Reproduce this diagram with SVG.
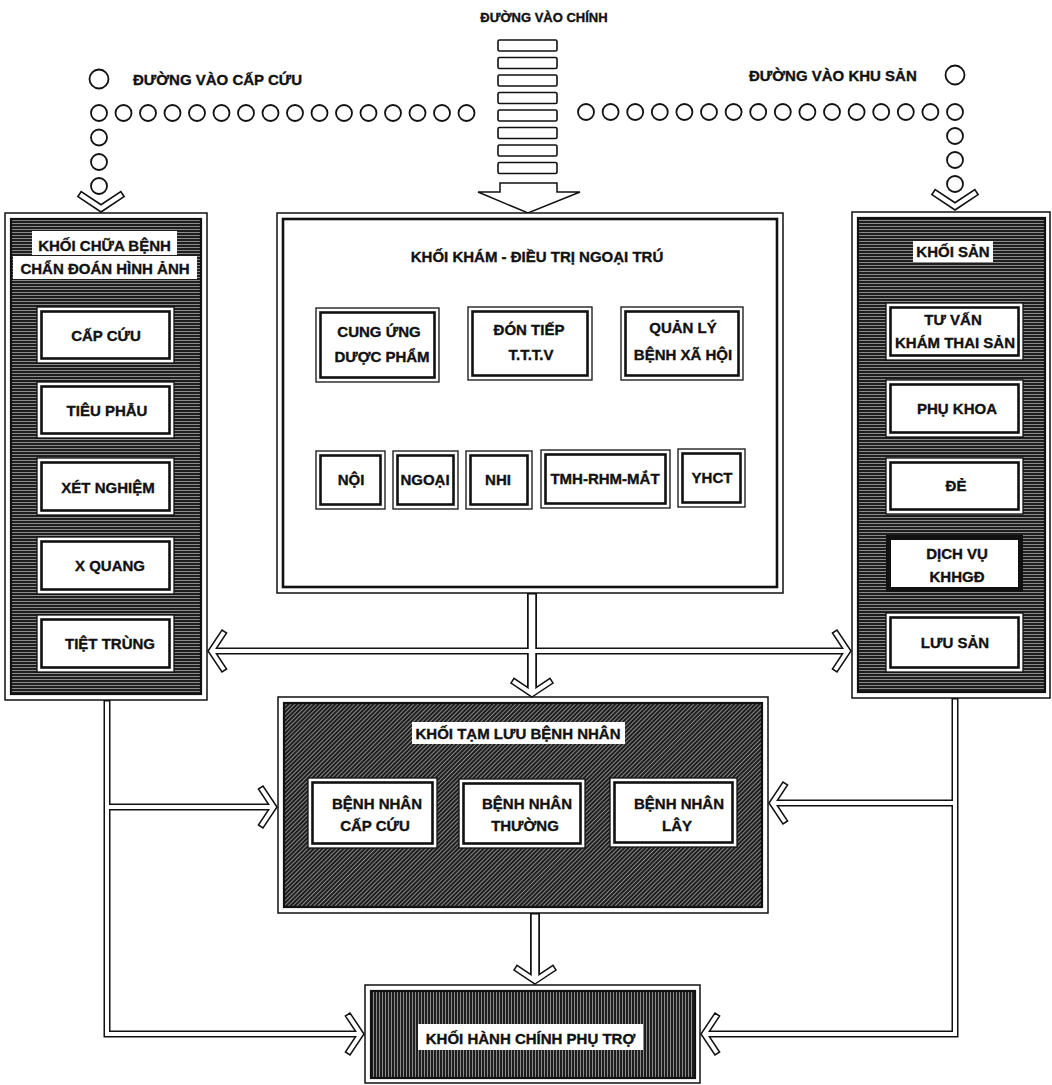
<svg xmlns="http://www.w3.org/2000/svg" width="1052" height="1085" viewBox="0 0 1052 1085">
<defs>
<style>
text{font-family:"Liberation Sans",Arial,"Noto Sans",sans-serif;font-weight:bold;font-size:15px;fill:#111;stroke:#111;stroke-width:0.35;text-anchor:middle}
.st{text-anchor:start}
.o{fill:#fff;stroke:#111;stroke-width:1.3}
.i{fill:none;stroke:#111;stroke-width:2.6}
.thick{fill:#fff;stroke:#111;stroke-width:5}
.bo{fill:#fff;stroke:#111;stroke-width:1.5}
.bi{fill:none;stroke:#111;stroke-width:2.6}
.hH{fill:url(#hatchH);stroke:#111;stroke-width:2.2}
.hD{fill:url(#hatchD);stroke:#111;stroke-width:2.2}
.hV{fill:url(#hatchV);stroke:#111;stroke-width:2.2}
.lab{fill:#fff}
.dot{fill:none;stroke:#111;stroke-width:1.8}
.stair{fill:#fff;stroke:#111;stroke-width:1.6}
.chev{fill:#fff;stroke:#111;stroke-width:1.5;stroke-linejoin:miter}
.cb{fill:none;stroke:#111;stroke-width:7;stroke-linejoin:miter}
.cw{fill:none;stroke:#fff;stroke-width:4;stroke-linejoin:miter}
.cb2{fill:none;stroke:#111;stroke-width:10}
.cw2{fill:none;stroke:#fff;stroke-width:6.5}
</style>
<pattern id="hatchH" width="12" height="3" patternUnits="userSpaceOnUse">
<rect width="12" height="3" fill="#1e1e1e"/><rect y="1" width="12" height="1" fill="#8c8c8c"/>
</pattern>
<pattern id="hatchD" width="12" height="3" patternUnits="userSpaceOnUse" patternTransform="rotate(-45)">
<rect width="12" height="3" fill="#1e1e1e"/><rect y="1" width="12" height="1" fill="#858585"/>
</pattern>
<pattern id="hatchV" width="3" height="12" patternUnits="userSpaceOnUse">
<rect width="3" height="12" fill="#1e1e1e"/><rect x="1" width="1" height="12" fill="#8c8c8c"/>
</pattern>
<polygon id="chev" class="chev" points="0,0 -14,-21 -18.6,-18 -6.6,0 -18.6,18 -14,21"/>
<circle id="dot" class="dot" r="8"/>
<rect id="step" class="stair" x="498" width="59" height="11" rx="1.5"/>
</defs>
<rect width="1052" height="1085" fill="#fff"/>

<!-- Entrances -->
<g id="entrance-main">
<text x="544" y="22" style="font-size:13px">ĐƯỜNG VÀO CHÍNH</text>
<use href="#step" y="40"/><use href="#step" y="57.5"/><use href="#step" y="75"/><use href="#step" y="92.5"/>
<use href="#step" y="110"/><use href="#step" y="127.5"/><use href="#step" y="145"/><use href="#step" y="162.5"/>
<path d="M500,183 H557 V192 H580 L528,213 L478,192 H500 Z" fill="#fff" stroke="#111" stroke-width="1.5" stroke-linejoin="miter"/>
</g>

<g id="entrance-emergency">
<circle class="dot" cx="99" cy="79" r="9.5"/>
<text class="st" x="133" y="85">ĐƯỜNG VÀO CẤP CỨU</text>
<use href="#dot" x="99" y="113"/><use href="#dot" x="123.5" y="113"/><use href="#dot" x="148" y="113"/><use href="#dot" x="172.5" y="113"/>
<use href="#dot" x="197" y="113"/><use href="#dot" x="221.5" y="113"/><use href="#dot" x="246" y="113"/><use href="#dot" x="270.5" y="113"/>
<use href="#dot" x="295" y="113"/><use href="#dot" x="319.5" y="113"/><use href="#dot" x="344" y="113"/><use href="#dot" x="368.5" y="113"/>
<use href="#dot" x="393" y="113"/><use href="#dot" x="417.5" y="113"/><use href="#dot" x="442" y="113"/><use href="#dot" x="466.5" y="113"/>
<use href="#dot" x="99" y="137.5"/><use href="#dot" x="99" y="162"/><use href="#dot" x="99" y="186"/>
<use href="#chev" transform="translate(101,212) rotate(90) scale(1.1)"/>
</g>

<g id="entrance-maternity">
<circle class="dot" cx="955" cy="75" r="9.5"/>
<text class="st" x="749" y="81">ĐƯỜNG VÀO KHU SẢN</text>
<use href="#dot" x="586" y="112"/><use href="#dot" x="610.6" y="112"/><use href="#dot" x="635.2" y="112"/><use href="#dot" x="659.8" y="112"/>
<use href="#dot" x="684.4" y="112"/><use href="#dot" x="709" y="112"/><use href="#dot" x="733.6" y="112"/><use href="#dot" x="758.2" y="112"/>
<use href="#dot" x="782.8" y="112"/><use href="#dot" x="807.4" y="112"/><use href="#dot" x="832" y="112"/><use href="#dot" x="856.6" y="112"/>
<use href="#dot" x="881.2" y="112"/><use href="#dot" x="905.8" y="112"/><use href="#dot" x="930.4" y="112"/><use href="#dot" x="955" y="112"/>
<use href="#dot" x="955" y="136"/><use href="#dot" x="955" y="160"/><use href="#dot" x="955" y="184"/>
<use href="#chev" transform="translate(955,210) rotate(90) scale(1.1)"/>
</g>

<!-- Left block -->
<g id="block-chua-benh">
<rect class="bo" x="5" y="213" width="202" height="487"/>
<rect class="hH" x="11" y="219" width="190" height="475"/>
<rect class="lab" x="32" y="231" width="145" height="24"/>
<rect class="lab" x="13" y="256" width="184" height="23"/>
<text x="104.5" y="251">KHỐI CHỮA BỆNH</text>
<text x="105" y="274">CHẨN ĐOÁN HÌNH ẢNH</text>
<g id="n-cap-cuu"><rect class="o" x="37" y="307" width="137" height="56"/><rect class="i" x="41.5" y="311.5" width="128" height="47"/><text x="106" y="341">CẤP CỨU</text></g>
<g id="n-tieu-phau"><rect class="o" x="37" y="382" width="137" height="56"/><rect class="i" x="41.5" y="386.5" width="128" height="47"/><text x="107" y="416">TIÊU PHẪU</text></g>
<g id="n-xet-nghiem"><rect class="o" x="37" y="458" width="137" height="57"/><rect class="i" x="41.5" y="462.5" width="128" height="48"/><text x="108" y="493">XÉT NGHIỆM</text></g>
<g id="n-x-quang"><rect class="o" x="37" y="537" width="137" height="57"/><rect class="i" x="41.5" y="541.5" width="128" height="48"/><text x="110" y="571">X QUANG</text></g>
<g id="n-tiet-trung"><rect class="o" x="37" y="615" width="137" height="57"/><rect class="i" x="41.5" y="619.5" width="128" height="48"/><text x="110" y="649">TIỆT TRÙNG</text></g>
</g>

<!-- Center block -->
<g id="block-kham">
<rect class="bo" x="277" y="213" width="506" height="380"/>
<rect class="bi" x="283" y="219" width="494" height="368"/>
<text x="537" y="262">KHỐI KHÁM - ĐIỀU TRỊ NGOẠI TRÚ</text>
<g id="n-cung-ung"><rect class="o" x="316" y="308" width="123" height="74"/><rect class="i" x="320.5" y="312.5" width="114" height="65"/><text x="379" y="337">CUNG ỨNG</text><text x="382" y="362">DƯỢC PHẨM</text></g>
<g id="n-don-tiep"><rect class="o" x="468" y="307" width="124" height="73"/><rect class="i" x="472.5" y="311.5" width="115" height="64"/><text x="529" y="335">ĐÓN TIẾP</text><text x="531" y="360">T.T.T.V</text></g>
<g id="n-quan-ly"><rect class="o" x="621" y="307" width="122" height="73"/><rect class="i" x="625.5" y="311.5" width="113" height="64"/><text x="683" y="333">QUẢN LÝ</text><text x="683" y="360">BỆNH XÃ HỘI</text></g>
<g id="n-noi"><rect class="o" x="316" y="451" width="69" height="58"/><rect class="i" x="320.5" y="455.5" width="60" height="49"/><text x="351" y="485">NỘI</text></g>
<g id="n-ngoai"><rect class="o" x="393" y="451" width="65" height="58"/><rect class="i" x="397.5" y="455.5" width="56" height="49"/><text x="425" y="485">NGOẠI</text></g>
<g id="n-nhi"><rect class="o" x="466" y="451" width="66" height="58"/><rect class="i" x="470.5" y="455.5" width="57" height="49"/><text x="498" y="485">NHI</text></g>
<g id="n-tmh"><rect class="o" x="541" y="450" width="129" height="58"/><rect class="i" x="545.5" y="454.5" width="120" height="49"/><text x="605" y="484">TMH-RHM-MẮT</text></g>
<g id="n-yhct"><rect class="o" x="678" y="449" width="67" height="58"/><rect class="i" x="682.5" y="453.5" width="58" height="49"/><text x="712" y="483">YHCT</text></g>
</g>

<!-- Right block -->
<g id="block-san">
<rect class="bo" x="852" y="212" width="198" height="486"/>
<rect class="hH" x="858" y="218" width="187" height="474"/>
<rect class="lab" x="913" y="241" width="80" height="21"/>
<text x="953" y="257">KHỐI SẢN</text>
<g id="n-tu-van"><rect class="o" x="886" y="303" width="137" height="57"/><rect class="i" x="890.5" y="307.5" width="128" height="48"/><text x="953" y="325">TƯ VẤN</text><text x="955" y="348">KHÁM THAI SẢN</text></g>
<g id="n-phu-khoa"><rect class="o" x="886" y="380" width="137" height="57"/><rect class="i" x="890.5" y="384.5" width="128" height="48"/><text x="957" y="414">PHỤ KHOA</text></g>
<g id="n-de"><rect class="o" x="886" y="458" width="137" height="56"/><rect class="i" x="890.5" y="462.5" width="128" height="47"/><text x="956" y="491">ĐẺ</text></g>
<g id="n-dich-vu"><rect class="thick" x="888.5" y="537.5" width="132" height="52"/><text x="957" y="559">DỊCH VỤ</text><text x="957" y="582">KHHGĐ</text></g>
<g id="n-luu-san"><rect class="o" x="886" y="613" width="137" height="59"/><rect class="i" x="890.5" y="617.5" width="128" height="50"/><text x="955" y="648">LƯU SẢN</text></g>
</g>

<!-- Middle block -->
<g id="block-tam-luu">
<rect class="bo" x="278" y="697" width="490" height="216"/>
<rect class="hD" x="284" y="703" width="478" height="204"/>
<rect class="lab" x="412" y="722" width="213" height="22"/>
<text x="518" y="739">KHỐI TẠM LƯU BỆNH NHÂN</text>
<g id="n-bn-cap-cuu"><rect class="o" x="308" y="778" width="129" height="70"/><rect class="i" x="312.5" y="782.5" width="120" height="61"/><text x="377" y="809">BỆNH NHÂN</text><text x="375" y="831">CẤP CỨU</text></g>
<g id="n-bn-thuong"><rect class="o" x="459" y="779" width="126" height="69"/><rect class="i" x="463.5" y="783.5" width="117" height="60"/><text x="527" y="809">BỆNH NHÂN</text><text x="525" y="831">THƯỜNG</text></g>
<g id="n-bn-lay"><rect class="o" x="610" y="778" width="127" height="69"/><rect class="i" x="614.5" y="782.5" width="118" height="60"/><text x="679" y="809">BỆNH NHÂN</text><text x="677" y="831">LÂY</text></g>
</g>

<!-- Bottom block -->
<g id="block-hanh-chinh">
<rect class="bo" x="365" y="985" width="335" height="98"/>
<rect class="hV" x="371" y="991" width="324" height="87"/>
<rect class="lab" x="418" y="1024" width="225" height="26"/>
<text x="530.5" y="1044">KHỐI HÀNH CHÍNH PHỤ TRỢ</text>
</g>

<!-- Connectors -->
<g id="connectors">
<use href="#chev" transform="translate(532,697) rotate(90)"/>
<use href="#chev" transform="translate(535,984) rotate(90)"/>
<use href="#chev" transform="translate(208,651) rotate(180)"/>
<use href="#chev" transform="translate(851,651)"/>
<use href="#chev" transform="translate(277,807)"/>
<use href="#chev" transform="translate(769,803) rotate(180)"/>
<use href="#chev" transform="translate(364,1034)"/>
<use href="#chev" transform="translate(701,1034) rotate(180)"/>

<path class="cb2" d="M532,593 V687.1"/>
<path class="cb2" d="M535,913 V974.1"/>
<path class="cb" d="M216.9,651 H842.1"/>
<path class="cb" d="M107,700 V1034 H355.1"/>
<path class="cb" d="M107,807 H268.1"/>
<path class="cb" d="M955,698 V1034 H709.9"/>
<path class="cb" d="M955,803 H777.9"/>

<path class="cw2" d="M532,594.5 V691.5"/>
<path class="cw2" d="M535,914.5 V978.5"/>
<path class="cw" d="M213.5,651 H845.5"/>
<path class="cw" d="M107,701.5 V1034 H358.5"/>
<path class="cw" d="M107,807 H271.5"/>
<path class="cw" d="M955,699.5 V1034 H706.5"/>
<path class="cw" d="M955,803 H774.5"/>
</g>
</svg>
